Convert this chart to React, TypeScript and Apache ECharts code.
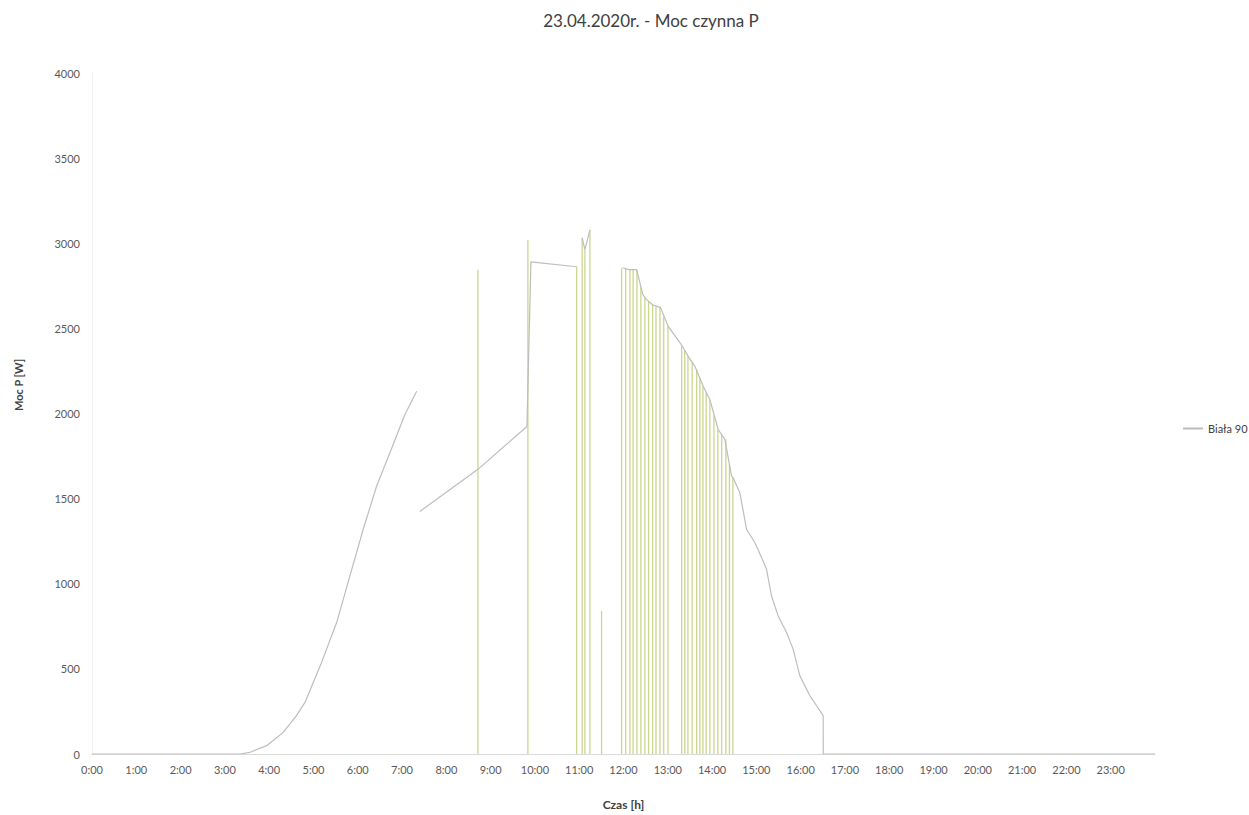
import React, { useEffect, useRef } from "react";
import * as echarts from "echarts";

// Time axis tick labels (one per hour)
const hourLabels = [
  "0:00", "1:00", "2:00", "3:00", "4:00", "5:00", "6:00", "7:00",
  "8:00", "9:00", "10:00", "11:00", "12:00", "13:00", "14:00", "15:00",
  "16:00", "17:00", "18:00", "19:00", "20:00", "21:00", "22:00", "23:00",
];

// Main profile of "Biała 90": minutes since midnight and active power [W] (null = gap)
const profileMinutes = [
  0, 200, 214, 236.6, 259, 277, 288.5, 299.7, 311, 331.4, 349.4, 367.4, 385.6, 403.6,
  423.9, 439.8,
  442,
  444.2, 522.8, 589.2, 594.6, 656.5,
  660,
  664, 667.7, 674.5,
  700,
  719, 727.3, 737.7, 746.3, 751.2, 759.3, 770.2, 780.5,
  800, 807.6, 816.7, 828, 837, 848.3, 857.3, 866.4, 868.5, 877.6, 886.7, 897.9, 907,
  913.8, 920.5, 929.5, 940.9, 949.8, 958.9, 972.5, 990.5, 990.6, 1440,
];
const profileValues = [
  0, 0, 10, 49, 127, 225, 303, 420, 538, 772, 1046, 1320, 1574, 1770,
  1994, 2131,
  null,
  1425, 1672, 1924, 2891, 2862,
  null,
  3032, 2962, 3079,
  null,
  2856, 2845, 2845, 2698, 2669, 2639, 2622, 2512,
  2394, 2336, 2277, 2160, 2082, 1906, 1848, 1632, 1622, 1535, 1320, 1242, 1154,
  1085, 928, 811, 714, 616, 459, 342, 225, 0, 0,
];

// Dropouts to zero: minute and the level each vertical spike reaches [W]
const spikeMinutes = [
  522.8, 590.5, 656.5, 664, 667.7, 674.5, 690.3,
  717.4, 723, 728.7, 733, 738.2, 743.5, 749, 754, 759.5, 764, 769.4, 774.5, 780.2,
  798.8, 803, 807.3, 813, 819.1, 823.5, 827.6, 832, 837, 842.5, 847.8, 853, 858.7,
  863.5, 868.2,
];
const spikeTops = [
  2845, 3020, 2862, 3032, 2962, 3079, 840,
  2856, 2850, 2845, 2845, 2845, 2745, 2680, 2660, 2639, 2630, 2622, 2570, 2512,
  2394, 2370, 2336, 2300, 2260, 2210, 2160, 2125, 2082, 1990, 1906, 1875, 1848,
  1700, 1622,
];

const FONT = "Lato, 'Liberation Sans', sans-serif";

export default function App() {
  const ref = useRef<HTMLDivElement>(null);

  useEffect(() => {
    if (!ref.current) return;
    const chart = echarts.init(ref.current, null, { renderer: "svg" });
    const profileData = profileMinutes.map((m, i) => [
      m,
      profileValues[i] === null ? "-" : profileValues[i],
    ]);
    const spikeData = spikeMinutes.map((m, i) => [m, spikeTops[i]]);

    chart.setOption({
      animation: false,
      backgroundColor: "#ffffff",
      textStyle: { fontFamily: FONT },
      title: {
        text: "23.04.2020r. - Moc czynna P",
        left: 646,
        top: 7,
        textAlign: "center",
        textStyle: {
          fontFamily: FONT,
          fontSize: 17,
          fontWeight: "normal",
          color: "#404040",
        },
      },
      legend: {
        data: ["Biała 90"],
        left: 1178,
        top: 418,
        itemWidth: 20,
        itemHeight: 2,
        icon: "rect",
        itemGap: 5,
        textStyle: { fontFamily: FONT, fontSize: 11, color: "#404040" },
      },
      grid: { left: 92, right: 94, top: 73, bottom: 60, containLabel: false },
      xAxis: {
        type: "value",
        min: 0,
        max: 1440,
        interval: 60,
        name: "Czas [h]",
        nameLocation: "middle",
        nameGap: 44,
        nameTextStyle: {
          fontFamily: FONT,
          fontSize: 12,
          fontWeight: "bold",
          color: "#404040",
        },
        axisLine: { show: true, lineStyle: { color: "#d9d9d9", width: 1 } },
        axisTick: { show: false },
        splitLine: { show: false },
        axisLabel: {
          margin: 10,
          fontFamily: FONT,
          fontSize: 11,
          color: "#595959",
          showMaxLabel: false,
          formatter: (v: number) => hourLabels[Math.round(v / 60)] ?? "",
        },
      },
      yAxis: {
        type: "value",
        min: 0,
        max: 4000,
        interval: 500,
        axisLine: { show: true, lineStyle: { color: "#f0f0f0", width: 1 } },
        axisTick: { show: false },
        splitLine: { show: false },
        axisLabel: {
          margin: 12,
          fontFamily: FONT,
          fontSize: 11,
          color: "#595959",
          formatter: (v: number) => String(v),
        },
      },
      graphic: [
        {
          type: "text",
          x: 18,
          y: 385,
          rotation: Math.PI / 2,
          style: {
            text: "Moc P [W]",
            fontFamily: FONT,
            fontSize: 11,
            fontWeight: "bold",
            fill: "#404040",
            align: "center",
            verticalAlign: "middle",
          },
        },
      ],
      series: [
        {
          name: "Biała 90",
          type: "line",
          data: profileData,
          showSymbol: false,
          connectNulls: false,
          lineStyle: { color: "#bdbdbd", width: 1.2 },
          itemStyle: { color: "#bdbdbd" },
          z: 3,
        },
        {
          name: "spikes",
          type: "bar",
          data: spikeData,
          barWidth: 1.3,
          itemStyle: { color: "#cbd68e" },
          silent: true,
          z: 2,
        },
      ],
    });
    return () => chart.dispose();
  }, []);

  return (
    <div
      ref={ref}
      style={{ position: "absolute", left: 0, top: 0, width: 1249, height: 815 }}
    />
  );
}
